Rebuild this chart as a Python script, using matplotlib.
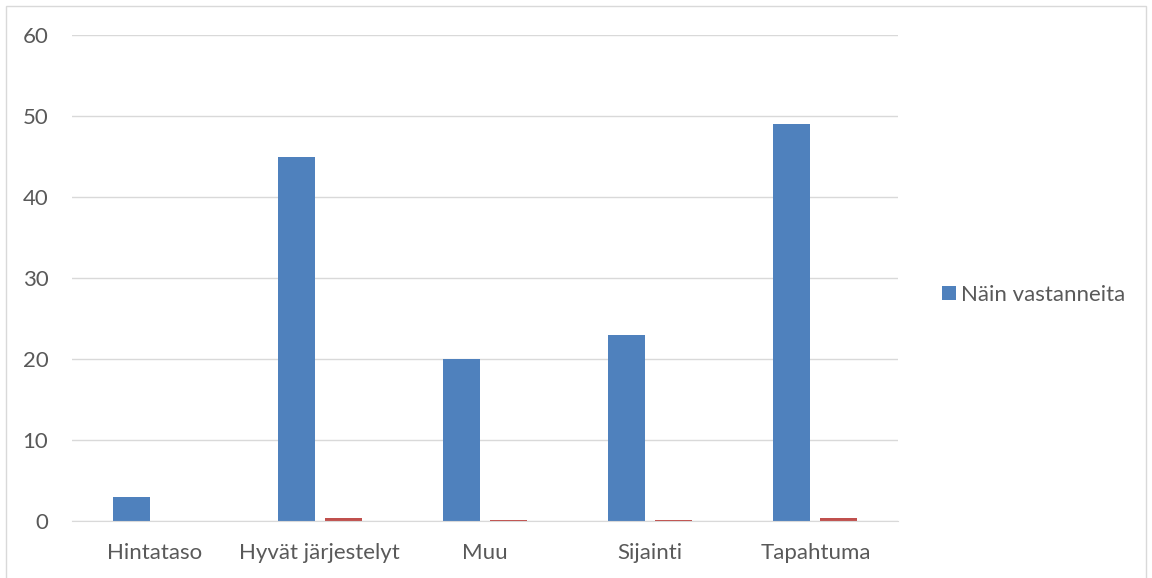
import numpy as np
import matplotlib.pyplot as plt
from matplotlib.patches import Rectangle

categories = ["Hintataso", "Hyvät järjestelyt", "Muu", "Sijainti", "Tapahtuma"]
counts = [3, 45, 20, 23, 49]
shares = [0.02, 0.32, 0.14, 0.16, 0.35]

plt.rcParams['font.family'] = ['Lato', 'DejaVu Sans']
txt = '#595959'
grid = '#D9D9D9'

fig = plt.figure(figsize=(11.52, 5.78), dpi=100)
fig.patches.append(Rectangle((0.005, -0.01), 0.99, 1.0, transform=fig.transFigure,
                             fill=False, edgecolor=grid, linewidth=1))
ax = fig.add_axes([0.0625, 0.0986, 0.717, 0.8408])

x = np.arange(len(categories))
w = 0.224
off = 0.142
ax.bar(x - off, counts, w, color='#4F81BD', label='Näin vastanneita', zorder=3)
ax.bar(x + off, shares, w, color='#C0504D', zorder=3)

ax.set_xlim(-0.5, len(categories) - 0.5)
ax.set_ylim(0, 60)
ax.set_yticks(range(0, 61, 10))
ax.set_xticks(x)
ax.set_xticklabels(categories)
ax.tick_params(length=0, labelsize=16, colors=txt)
ax.tick_params(axis='y', pad=17)
ax.tick_params(axis='x', pad=15.5)
ax.grid(axis='y', color=grid, linewidth=1, zorder=0)
for s in ['top', 'right', 'left']:
    ax.spines[s].set_visible(False)
ax.spines['bottom'].set_color(grid)
ax.spines['bottom'].set_zorder(4)

handles, labels = ax.get_legend_handles_labels()
fig.legend(handles[:1], labels[:1], loc='center left', bbox_to_anchor=(0.8005, 0.49),
           frameon=False, fontsize=16, labelcolor=txt, handlelength=0.6,
           handleheight=0.6, handletextpad=0.25)

fig.savefig('out.png', dpi=100)
